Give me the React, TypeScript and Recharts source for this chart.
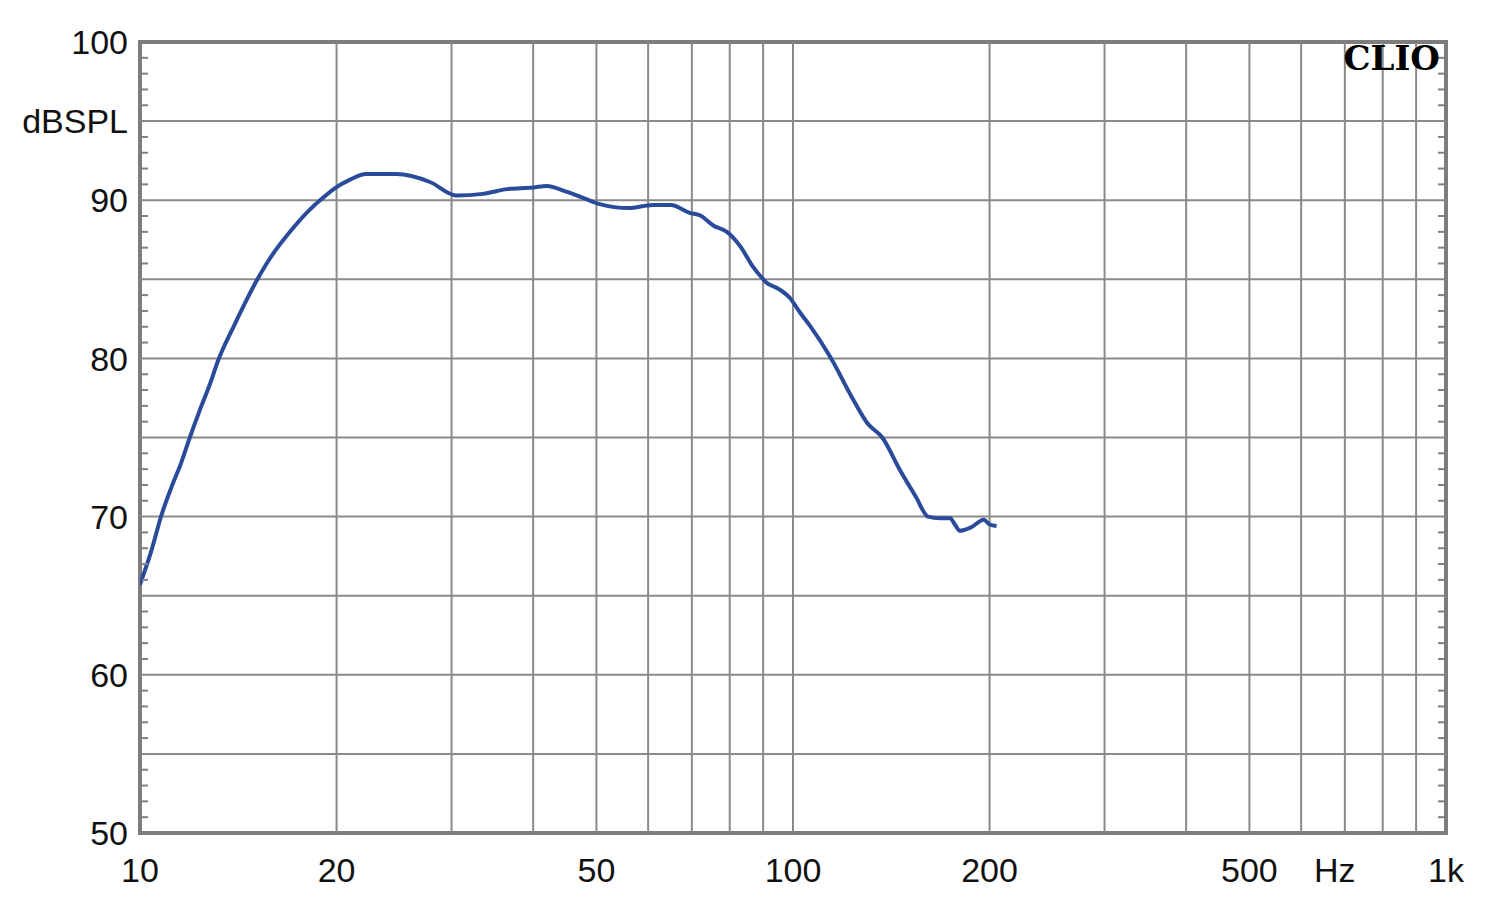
import { LineChart, Line, XAxis, YAxis, ReferenceLine, ReferenceArea } from 'recharts'

// plot box inside the 1500x913 picture
const PLOT_LEFT = 140
const PLOT_RIGHT = 1446
const FONT = '"Liberation Sans", Arial, sans-serif'

const FREQ = [
  10, 10.41, 10.78, 11.17, 11.57, 11.92, 12.34, 12.79, 13.18, 13.9, 15.1, 15.8, 16.97, 18.2, 19.06, 19.87,
  20.98, 22.2, 24.7, 27.8, 30.5, 33.5, 36.5, 40, 42, 44.5, 48, 50.6, 56, 61, 65, 69.5, 72, 75.5, 79.2, 83,
  86.8, 89.6, 91, 95, 99, 102.5, 106, 114, 124, 130, 137, 146, 154, 161, 168, 174, 177, 180, 187, 196,
  200, 205,
]
const SPL = [
  65.7, 67.85, 70.06, 71.85, 73.43, 75.0, 76.7, 78.35, 79.9, 81.98, 84.94, 86.3, 88.0, 89.4, 90.15, 90.75,
  91.3, 91.65, 91.65, 91.15, 90.3, 90.4, 90.7, 90.8, 90.9, 90.6, 90.1, 89.75, 89.5, 89.7, 89.7, 89.2, 89.05, 88.4, 88.0, 87.1,
  85.8, 85.1, 84.8, 84.4, 83.8, 82.9, 82.1, 80.1, 77.3, 75.9, 75.0, 72.9, 71.3, 70.0, 69.9, 69.9, 69.5, 69.1, 69.3, 69.8,
  69.5, 69.4,
]

const X_TICKS = [10, 20, 30, 40, 50, 60, 70, 80, 90, 100, 200, 300, 400, 500, 600, 700, 800, 900, 1000]
const X_GRID = [20, 30, 40, 50, 60, 70, 80, 90, 100, 200, 300, 400, 500, 600, 700, 800, 900]
const X_LABELS: Record<number, string> = {
  10: '10', 20: '20', 50: '50', 100: '100', 200: '200', 500: '500', 700: 'Hz', 1000: '1k',
}
const Y_TICKS = Array.from({ length: 51 }, (_, i) => 50 + i)
const Y_GRID = [55, 60, 65, 70, 75, 80, 85, 90, 95]
const Y_LABELS: Record<number, string> = {
  50: '50', 60: '60', 70: '70', 80: '80', 90: '90', 95: 'dBSPL', 100: '100',
}

const data = FREQ.map((f, i) => ({ f, spl: SPL[i] }))

function XTick({ x, y, payload }: any) {
  const label = X_LABELS[payload.value]
  if (!label) return null
  const shift = payload.value === 700 ? -10 : 0
  return (
    <text x={x + shift} y={y + 41} textAnchor="middle" fontSize={34} fontFamily={FONT} fill="#111">
      {label}
    </text>
  )
}

function YTick({ y, payload }: any) {
  const v = payload.value
  const label = Y_LABELS[v]
  const minor = v % 5 !== 0
  return (
    <g>
      {label && (
        <text x={PLOT_LEFT - 12} y={y} dy="0.36em" textAnchor="end" fontSize={34} fontFamily={FONT} fill="#111">
          {label}
        </text>
      )}
      {minor && (
        <>
          <line x1={PLOT_LEFT + 2} x2={PLOT_LEFT + 8} y1={y} y2={y} stroke="#808080" strokeWidth={2} />
          <line x1={PLOT_RIGHT - 8} x2={PLOT_RIGHT - 2} y1={y} y2={y} stroke="#808080" strokeWidth={2} />
        </>
      )}
    </g>
  )
}

export default function App() {
  return (
    <div style={{ position: 'absolute', left: 0, top: 0, width: 1500, height: 913, background: '#fff' }}>
      <LineChart width={1500} height={913} data={data} margin={{ top: 42, right: 54, bottom: 0, left: 0 }}>
        <XAxis
          dataKey="f"
          type="number"
          scale="log"
          domain={[10, 1000]}
          ticks={X_TICKS}
          interval={0}
          tick={<XTick />}
          tickLine={false}
          axisLine={false}
          height={80}
          allowDataOverflow
        />
        <YAxis
          type="number"
          domain={[50, 100]}
          ticks={Y_TICKS}
          interval={0}
          tick={<YTick />}
          tickLine={false}
          axisLine={false}
          width={140}
          allowDataOverflow
        />
        {X_GRID.map((f) => (
          <ReferenceLine key={'x' + f} x={f} stroke="#8a8a8a" strokeWidth={2} />
        ))}
        {Y_GRID.map((v) => (
          <ReferenceLine key={'y' + v} y={v} stroke="#8a8a8a" strokeWidth={2} />
        ))}
        <ReferenceArea x1={10} x2={1000} y1={50} y2={100} fill="none" stroke="#7d7d7d" strokeWidth={4} />
        <Line
          type="monotone"
          dataKey="spl"
          stroke="#2a4a9a"
          strokeWidth={4}
          dot={false}
          activeDot={false}
          isAnimationActive={false}
        />
      </LineChart>
      <div
        style={{
          position: 'absolute',
          right: 60,
          top: 41,
          fontFamily: '"DejaVu Serif", "Liberation Serif", serif',
          fontWeight: 'bold',
          fontSize: 34,
          color: '#000',
          lineHeight: 1,
        }}
      >
        CLIO
      </div>
    </div>
  )
}
